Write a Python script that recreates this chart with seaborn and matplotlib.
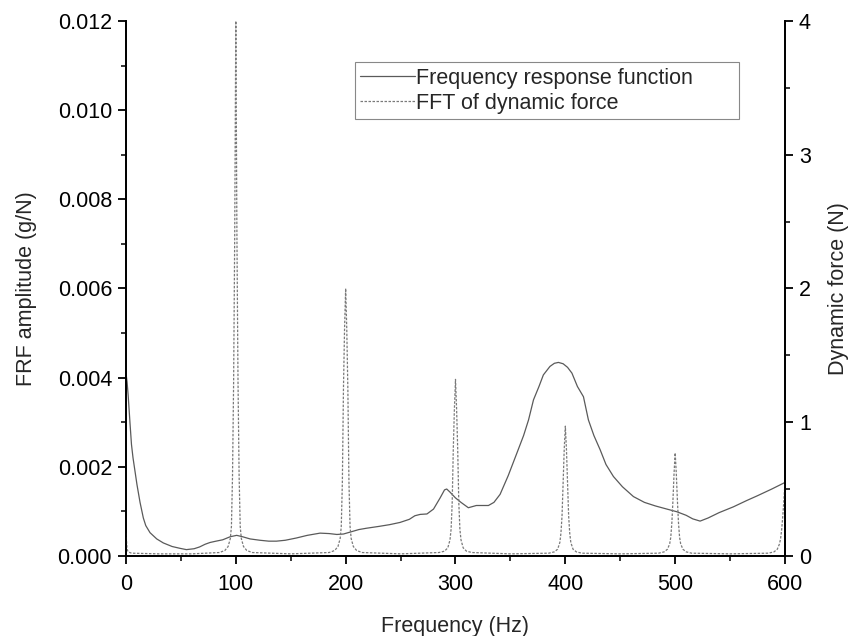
import numpy as np
import pandas as pd
import seaborn as sns
import matplotlib.pyplot as plt
from matplotlib.ticker import MultipleLocator

# FRF amplitude (g/N)
frf_freq = [0, 1, 2, 3.6, 5, 6.4, 8.2, 10, 12.8, 15.8, 18, 21.9, 28, 34, 42, 49,
            55, 62, 67, 72, 76.5, 82, 88, 95, 100.8, 106, 113, 122, 130, 137, 145,
            155, 165, 176.7, 185, 192, 198, 205, 212, 219, 230, 240, 249.5, 258,
            263, 267.8, 274, 280, 286, 290, 292, 295, 300, 305, 311.7, 319, 325,
            330, 335, 340.6, 348, 355.8, 362, 366.5, 371, 376, 380, 386, 390,
            393.7, 398, 402, 406, 411, 416.5, 421, 426, 431.7, 437, 443.8, 452,
            462, 472, 482, 492.4, 501.5, 510, 516, 522.7, 530, 540, 553, 565, 575,
            588, 598.6, 600]
frf_amp = [0.0041, 0.0039, 0.0036, 0.0030, 0.0025, 0.0022, 0.0019, 0.0016,
           0.0012, 0.00085, 0.00068, 0.00052, 0.00038, 0.00029, 0.00021, 0.00017,
           0.00014, 0.00016, 0.0002, 0.00026, 0.0003, 0.00033, 0.00036, 0.00043,
           0.00046, 0.00043, 0.00038, 0.00035, 0.00033, 0.00033, 0.00035, 0.0004,
           0.00046, 0.00051, 0.0005, 0.00048, 0.00049, 0.00054, 0.00059, 0.00062,
           0.00066, 0.0007, 0.00075, 0.00082, 0.0009, 0.00093, 0.00094, 0.00105,
           0.0013, 0.00148, 0.0015, 0.00143, 0.0013, 0.0012, 0.00108, 0.00113,
           0.00113, 0.00113, 0.0012, 0.00138, 0.0018, 0.0023, 0.0027, 0.00305,
           0.0035, 0.0038, 0.00406, 0.00425, 0.00432, 0.00434, 0.00431, 0.00423,
           0.0041, 0.0038, 0.00357, 0.00305, 0.0027, 0.00238, 0.00205, 0.00178,
           0.00155, 0.00133, 0.0012, 0.00112, 0.00105, 0.00099, 0.00091, 0.00083,
           0.00078, 0.00085, 0.00097, 0.0011, 0.00124, 0.00135, 0.0015, 0.00163,
           0.00165]

# FFT of dynamic force (N)
fft_freq = [0, 1, 2, 5, 30, 60,
            85, 90, 93, 95, 96, 97, 98, 99, 100, 101, 102, 103, 104, 105, 107, 110, 115,
            150,
            185, 190, 193, 195, 196, 197, 198, 199, 200, 201, 202, 203, 204, 205, 207, 210, 215,
            250,
            285, 290, 293, 295, 296, 297, 298, 299, 300, 301, 302, 303, 304, 305, 307, 310, 315,
            350,
            385, 390, 393, 395, 396, 397, 398, 399, 400, 401, 402, 403, 404, 405, 407, 410, 415,
            450,
            485, 490, 493, 495, 496, 497, 498, 499, 500, 501, 502, 503, 504, 505, 507, 510, 515,
            550,
            585, 590, 593, 595, 596, 597, 598, 599, 600]
fft_force = [0.17, 0.05, 0.03, 0.02, 0.015, 0.015,
             0.025, 0.04, 0.07, 0.13, 0.22, 0.6, 1.3, 2.4, 4.0, 2.4, 1.3, 0.6, 0.22, 0.13, 0.07, 0.04, 0.025,
             0.015,
             0.025, 0.04, 0.07, 0.13, 0.22, 0.55, 1.25, 1.7, 2.0, 1.7, 1.25, 0.55, 0.22, 0.13, 0.07, 0.04, 0.025,
             0.015,
             0.025, 0.035, 0.06, 0.12, 0.2, 0.4, 0.8, 1.1, 1.32, 1.1, 0.8, 0.4, 0.2, 0.12, 0.06, 0.035, 0.025,
             0.015,
             0.02, 0.03, 0.05, 0.1, 0.17, 0.3, 0.55, 0.8, 0.97, 0.8, 0.55, 0.3, 0.17, 0.1, 0.05, 0.03, 0.02,
             0.015,
             0.02, 0.03, 0.05, 0.09, 0.14, 0.25, 0.42, 0.62, 0.77, 0.62, 0.42, 0.25, 0.14, 0.09, 0.05, 0.03, 0.02,
             0.015,
             0.02, 0.03, 0.05, 0.09, 0.13, 0.2, 0.3, 0.42, 0.55]

frf = pd.DataFrame({"freq": frf_freq, "amp": frf_amp})
fft = pd.DataFrame({"freq": fft_freq, "force": fft_force})

FS = 15.5

sns.set_theme(style="ticks")
plt.rcParams["font.family"] = ["Liberation Sans", "DejaVu Sans"]
plt.rcParams["font.size"] = FS

fig = plt.figure(figsize=(8.57, 6.36), dpi=100)
ax = fig.add_axes([0.147, 0.126, 0.769, 0.841])
ax2 = ax.twinx()

sns.lineplot(data=frf, x="freq", y="amp", ax=ax, color="#5a5a5a", linewidth=0.9,
             label="Frequency response function", legend=False)
sns.lineplot(data=fft, x="freq", y="force", ax=ax2, color="#7a7a7a", linewidth=0.9,
             linestyle=(0, (2, 1.2)), label="FFT of dynamic force", legend=False)

ax.set_xlim(0, 600)
ax.set_ylim(0, 0.012)
ax2.set_ylim(0, 4)

ax.xaxis.set_major_locator(MultipleLocator(100))
ax.xaxis.set_minor_locator(MultipleLocator(50))
ax.yaxis.set_major_locator(MultipleLocator(0.002))
ax.yaxis.set_minor_locator(MultipleLocator(0.001))
ax.yaxis.set_major_formatter(plt.FormatStrFormatter("%.3f"))
ax2.yaxis.set_major_locator(MultipleLocator(1))
ax2.yaxis.set_minor_locator(MultipleLocator(0.5))

for a in (ax, ax2):
    a.spines["top"].set_visible(False)
    for s in ("left", "right", "bottom"):
        a.spines[s].set_linewidth(1.3)
        a.spines[s].set_color("black")
    a.tick_params(which="major", direction="out", length=6, width=1.3, pad=4,
                  labelsize=FS, colors="black")
    a.tick_params(which="minor", direction="out", length=3.5, width=1.3)
ax.tick_params(axis="x", which="major", pad=7)

ax.set_xlabel("Frequency (Hz)", fontsize=FS, labelpad=15)
ax.set_ylabel("FRF amplitude (g/N)", fontsize=FS, labelpad=15)
ax2.set_ylabel("Dynamic force (N)", fontsize=FS, labelpad=12)

h1, l1 = ax.get_legend_handles_labels()
h2, l2 = ax2.get_legend_handles_labels()
leg = ax2.legend(h1 + h2, l1 + l2, loc="upper left", mode="expand",
                 bbox_to_anchor=(0.3475, 0.923 - 0.11, 0.583, 0.11),
                 borderaxespad=0, fancybox=False, framealpha=1, edgecolor="#888888",
                 handlelength=2.55, handletextpad=0.05, labelspacing=0.2,
                 borderpad=0.25, fontsize=FS)
leg.get_frame().set_linewidth(0.8)

fig.savefig("out.png", dpi=100)
